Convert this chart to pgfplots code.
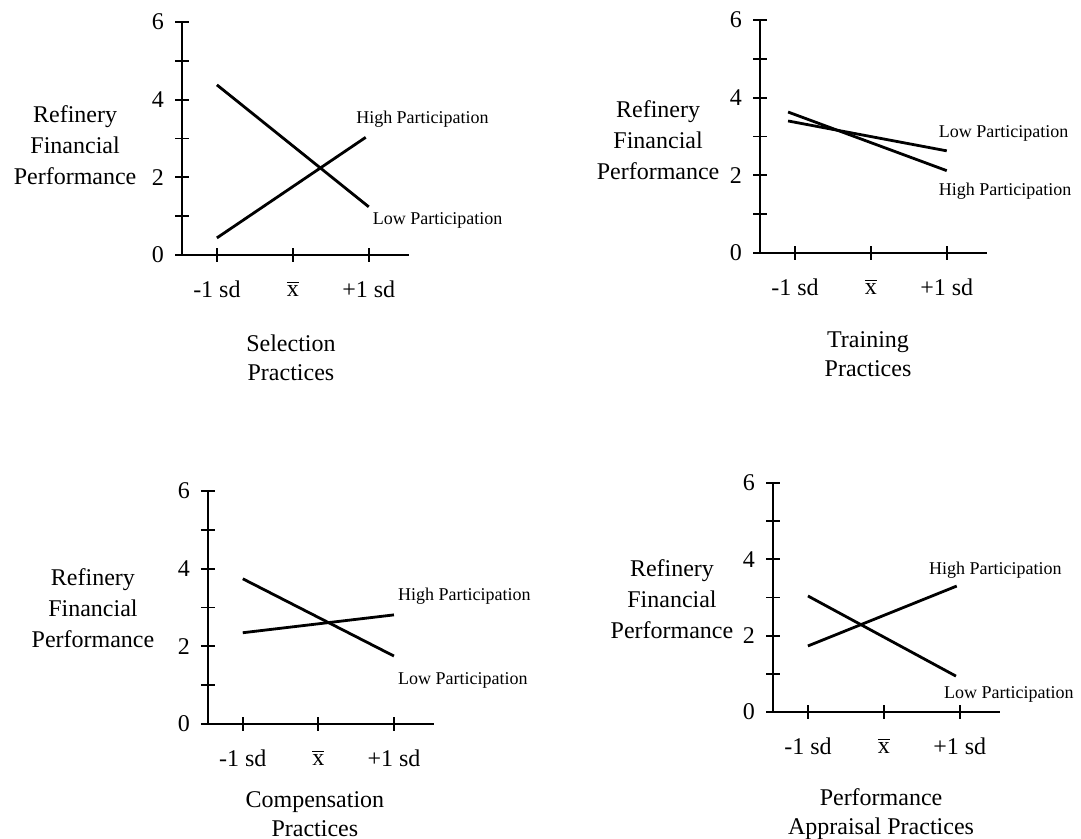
\documentclass[border=0pt]{standalone}
\usepackage{fontspec}
\setmainfont{Liberation Serif}
\usepackage{pgfplots}
\pgfplotsset{compat=1.18}
\tikzset{plab/.style={anchor=west, font=\fontsize{9}{10}\selectfont, inner sep=0pt},
  ln/.style={black, line width=1.4pt}}
\pgfplotsset{panel/.style={
  scale only axis, axis lines=left, axis line style={-, line width=1pt},
  xmin=-1.46, xmax=1.53, ymin=0, ymax=6,
  xtick={-1,0,1}, xticklabels={-1 sd, $\overline{\hbox{x}}$, +1 sd},
  ytick={0,2,4,6}, minor ytick={1,3,5},
  tick align=center, major tick length=7pt, minor tick length=7pt,
  tick style={black, line width=0.9pt},
  every tick label/.append style={font=\fontsize{12}{14}\selectfont},
  xticklabel style={yshift=-6pt},
  yticklabel style={xshift=-2pt},
  /pgf/number format/assume math mode=true,
  clip=false,
  ylabel={Refinery\\Financial\\Performance},
},
ylab/.style 2 args={ylabel style={at={(axis description cs:#1,#2)}, font=\fontsize{12}{15.5}\selectfont, align=center, rotate=-90, anchor=center}},
xlab/.style 2 args={xlabel style={at={(axis description cs:#1,#2)}, font=\fontsize{12}{14.5}\selectfont, align=center, anchor=center}},
}
\begin{document}
\begin{tikzpicture}
\useasboundingbox (0,0) rectangle (540.5pt,419.5pt);
% Panel 1
\begin{axis}[panel, at={(91pt,292pt)}, anchor=south west, width=113.5pt, height=116.5pt,
  ylab={-0.471}{0.472}, xlabel={Selection\\Practices}, xlab={0.48}{-0.44}]
\addplot[ln] coordinates {(-1,4.38) (1,1.24)};
\addplot[ln] coordinates {(-1,0.44) (0.96,3.03)};
\node[plab] at (axis cs:0.83,3.5) {High Participation};
\node[plab] at (axis cs:1.05,0.88) {Low Participation};
\end{axis}
% Panel 2
\begin{axis}[panel, at={(380pt,293pt)}, anchor=south west, width=113.5pt, height=116.5pt,
  ylab={-0.449}{0.483}, xlabel={Training\\Practices}, xlab={0.476}{-0.436}]
\addplot[ln] coordinates {(-1.09,3.40) (1.0,2.63)};
\addplot[ln] coordinates {(-1.09,3.63) (1.0,2.12)};
\node[plab] at (axis cs:0.89,3.09) {Low Participation};
\node[plab] at (axis cs:0.89,1.6) {High Participation};
\end{axis}
% Panel 3
\begin{axis}[panel, at={(104pt,57.5pt)}, anchor=south west, width=113pt, height=116.5pt,
  ylab={-0.509}{0.498}, xlabel={Compensation\\Practices}, xlab={0.473}{-0.385},
  xlabel style={inner sep=0pt}]
\addplot[ln] coordinates {(-1,3.74) (1,1.75)};
\addplot[ln] coordinates {(-1,2.35) (1,2.81)};
\node[plab] at (axis cs:1.05,3.30) {High Participation};
\node[plab] at (axis cs:1.05,1.13) {Low Participation};
\end{axis}
% Panel 4
\begin{axis}[panel, at={(386.5pt,63.5pt)}, anchor=south west, width=113.5pt, height=114.5pt,
  ylab={-0.445}{0.493}, xlabel={Performance\\Appraisal Practices}, xlab={0.476}{-0.448}]
\addplot[ln] coordinates {(-1,3.04) (0.95,0.94)};
\addplot[ln] coordinates {(-1,1.73) (0.96,3.30)};
\node[plab] at (axis cs:0.59,3.72) {High Participation};
\node[plab] at (axis cs:0.79,0.47) {Low Participation};
\end{axis}
\end{tikzpicture}
\end{document}
